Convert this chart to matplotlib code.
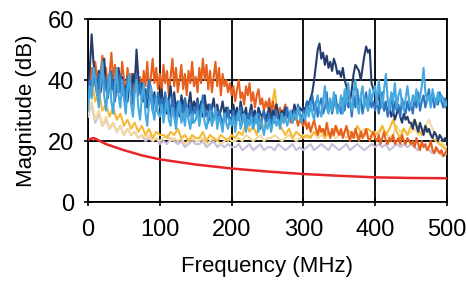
import numpy as np
import matplotlib
matplotlib.use("Agg")
import matplotlib.pyplot as plt

plt.rcParams['font.family'] = ['Liberation Sans', 'DejaVu Sans']

freq_fine = np.arange(0, 500.1, 2.5)
freq_coarse = np.arange(0, 501, 5)

orange = [36,40,44,38,46,41,35,43,48,39,44,37,42,49,40,45,36,43,38,46,
          40,35,44,38,42,34,40,45,37,41,35,43,38,46,36,41,47,39,44,37,
          42,36,45,39,43,35,41,47,38,44,36,40,45,37,42,35,43,39,46,38,
          41,36,44,39,47,40,45,37,43,36,41,46,38,44,35,42,38,40,36,39,
          35,38,33,37,40,34,36,32,38,35,39,33,36,31,35,37,32,34,30,33,
          31,34,29,33,30,32,28,31,27,30,32,28,29,26,30,27,28,25,27,26,
          25,27,24,26,23,25,27,24,22,25,23,24,22,26,23,21,24,22,25,23,
          22,24,21,23,25,22,20,23,21,24,22,20,23,21,22,24,21,20,22,23,
          21,20,22,19,21,23,20,19,21,20,22,19,20,21,19,22,20,19,21,20,
          19,20,18,21,19,17,20,18,19,17,18,20,17,16,18,17,16,17,15,16,
          17]

navy = [38,44,55,46,40,37,43,36,41,47,38,35,42,37,40,34,39,44,36,41,
        35,38,33,40,36,42,38,50,41,36,39,33,37,31,35,38,32,36,30,34,
        32,37,31,35,29,34,38,31,36,30,33,28,35,31,34,29,32,36,30,33,
        31,34,29,33,28,35,30,32,27,31,34,29,32,28,30,33,29,31,28,30,
        29,32,28,31,27,33,30,28,31,26,29,32,28,30,27,31,29,28,30,27,
        29,31,27,30,28,32,29,27,30,28,31,29,27,30,28,32,30,29,31,30,
        31,30,33,32,34,36,40,45,50,52,47,49,45,48,44,46,43,47,45,42,
        43,41,44,40,38,35,33,37,42,45,44,43,40,44,48,51,49,50,39,37,
        35,33,36,31,34,30,32,29,31,28,30,27,29,31,28,26,29,27,28,26,
        26,24,27,25,23,26,24,22,25,23,24,22,21,23,22,20,22,21,20,21,
        20]

blue = [34,40,37,44,39,35,42,38,45,36,41,34,39,43,37,33,40,36,42,35,
        38,33,41,36,39,32,37,42,35,39,33,37,31,36,40,34,30,35,32,36,
        31,34,29,36,30,33,28,35,31,27,33,29,32,27,34,30,28,32,26,31,
        29,33,27,31,35,28,30,26,32,29,27,31,26,30,28,25,29,27,31,26,
        28,30,25,29,27,31,26,28,24,29,27,30,25,28,26,29,24,27,30,26,
        27,29,25,28,26,30,27,25,29,26,28,31,27,29,26,30,28,32,29,27,
        30,28,33,29,31,35,30,33,28,32,34,29,31,36,30,33,29,32,35,30,
        32,29,34,30,36,31,33,28,35,31,37,32,34,29,33,36,30,34,31,33,
        30,34,29,32,36,30,33,28,31,35,29,33,30,32,28,34,31,29,33,30,
        32,29,34,31,36,30,33,35,31,34,37,32,35,31,34,32,36,33,31,34,
        32]

light_blue = [30,38,34,44,41,36,31,39,46,35,30,37,42,33,29,38,44,35,31,40,
              34,29,37,42,32,28,36,40,31,27,35,39,29,25,33,38,30,27,34,29,
              28,32,26,30,34,27,25,31,28,24,30,33,26,29,25,31,27,24,29,26,
              27,30,25,29,32,26,24,28,30,25,27,31,24,28,26,23,29,26,24,27,
              25,28,23,27,30,24,26,29,23,27,25,28,24,26,29,23,27,25,22,26,
              24,27,23,26,28,25,27,24,29,26,28,25,27,30,26,29,27,31,28,26,
              29,27,31,28,33,29,27,32,35,30,28,33,38,31,29,34,30,36,32,29,
              31,35,29,37,32,39,33,30,36,40,32,29,35,38,31,34,30,37,33,36,
              38,32,40,35,31,37,42,34,30,36,33,39,31,35,37,32,30,34,38,33,
              31,35,33,37,32,34,38,44,36,33,35,31,37,34,32,36,33,35,34,31,
              33]

gold = [34,40,33,36,30,32,28,31,27,29,25,
        27,24,26,23,25,22,24,21,23,22,
        22,21,23,22,24,21,22,20,22,21,
        21,23,20,22,21,20,22,21,20,22,
        21,23,22,26,23,25,22,28,24,27,
        30,37,26,24,22,24,21,23,22,21,
        22,21,23,22,24,21,23,22,25,23,
        22,24,23,21,25,23,22,24,23,22,
        23,25,22,24,27,23,21,24,22,25,
        27,24,22,25,23,21,20,19,18,17]

tan = [29,33,27,30,25,28,24,26,23,25,22,
       24,22,23,21,22,21,22,20,21,20,
       21,22,20,21,20,21,19,20,21,20,
       20,21,19,20,21,20,19,20,21,20,
       20,21,20,22,21,20,21,22,20,21,
       21,22,21,20,21,22,21,20,21,22,
       21,22,23,21,22,21,23,22,21,22,
       22,21,23,22,21,23,24,22,21,23,
       22,24,23,21,22,25,23,24,22,23,
       24,22,23,25,27,24,22,20,19,18]

lavender = [28,32,26,29,25,27,24,26,23,25,22,
            24,22,23,21,22,20,21,20,21,19,
            20,19,21,20,19,20,18,19,20,19,
            19,20,18,19,20,18,19,18,19,18,
            18,19,17,18,19,17,18,19,17,18,
            18,17,19,18,17,18,19,17,18,17,
            18,19,17,18,19,18,17,19,18,17,
            18,19,17,18,19,18,17,18,19,18,
            19,18,19,17,18,19,18,19,18,19,
            18,17,19,18,17,16,17,16,15,16]

red_freq = [0, 8, 25, 50, 75, 100, 150, 200, 250, 300, 350, 400, 450, 500]
red_vals = [20.5, 21, 19.0, 17.0, 15.3, 14.0, 12.3, 11.0, 10.0, 9.2, 8.6, 8.1, 7.9, 7.8]

x_ticks = [0, 100, 200, 300, 400, 500]
y_ticks = [0, 20, 40, 60]

fig = plt.figure(figsize=(4.66, 2.81), dpi=100)
ax = fig.add_axes([0.189, 0.281, 0.770, 0.651])

ax.plot(freq_coarse, lavender, color='#C9BEDA', lw=1.5, zorder=3)
ax.plot(freq_coarse, tan, color='#F3D9A0', lw=1.5, zorder=3)
ax.plot(freq_coarse, gold, color='#F5B936', lw=1.5, zorder=3)
ax.plot(freq_fine, orange, color='#E8601E', lw=1.5, zorder=3)
ax.plot(freq_fine, navy, color='#243C6C', lw=1.5, zorder=3)
ax.plot(freq_fine, blue, color='#2E75C0', lw=1.5, zorder=3)
ax.plot(freq_fine, light_blue, color='#45A8DE', lw=1.5, zorder=3)
ax.plot(red_freq, red_vals, color='#E8262A', lw=1.8, zorder=4)

ax.set_xlim(0, 500)
ax.set_ylim(0, 60)
ax.set_xticks(x_ticks)
ax.set_yticks(y_ticks)
ax.grid(True, color='black', lw=1.3, zorder=1)
ax.set_axisbelow(True)
for s in ax.spines.values():
    s.set_color('black')
    s.set_linewidth(1.3)
ax.tick_params(direction='inout', length=6, width=1.2, labelsize=17, pad=7)
ax.tick_params(axis='x', pad=9)
ax.set_xlabel('Frequency (MHz)', fontsize=16, labelpad=11)
ax.set_ylabel('Magnitude (dB)', fontsize=16, labelpad=8)

fig.savefig('out.png', dpi=100)
